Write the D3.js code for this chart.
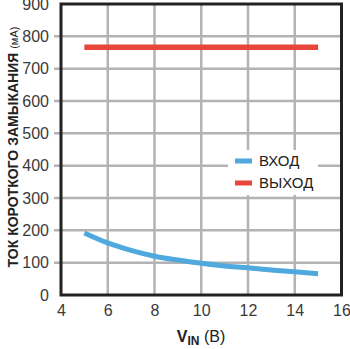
<!DOCTYPE html>
<html><head><meta charset="utf-8">
<script src="https://cdn.jsdelivr.net/npm/d3@7"></script>
<style>html,body{margin:0;padding:0;background:#fff;}svg{display:block;font-family:Arial,"Liberation Sans",sans-serif;}</style>
</head><body>
<script>
const vin = [5, 6, 7, 8, 9, 10, 11, 12, 13, 14, 15];
const inputCurrent = [192, 161, 138, 120, 108, 98, 90, 84, 77, 72, 66];
const outputCurrent = [766, 766, 766, 766, 766, 766, 766, 766, 766, 766, 766];
const xTicks = [4, 6, 8, 10, 12, 14, 16];
const yTicks = [0, 100, 200, 300, 400, 500, 600, 700, 800, 900];
const seriesNames = ["ВХОД", "ВЫХОД"];
const seriesColors = ["#4fa9de", "#e8463a"];

const W = 350, H = 349;
const m = {left: 61, right: 8.5, top: 4, bottom: 54};
const svg = d3.select("body").append("svg").attr("width", W).attr("height", H);
const x = d3.scaleLinear().domain([4, 16]).range([m.left, W - m.right]);
const y = d3.scaleLinear().domain([0, 900]).range([H - m.bottom, m.top]);

// grid
svg.append("g").selectAll("line.v").data(xTicks.slice(1, -1)).join("line")
  .attr("x1", d => x(d)).attr("x2", d => x(d)).attr("y1", y(900)).attr("y2", y(0))
  .attr("stroke", "#b3b3b3").attr("stroke-width", 2.5);
svg.append("g").selectAll("line.h").data(yTicks.slice(1, -1)).join("line")
  .attr("x1", x(4) - 7).attr("x2", x(16)).attr("y1", d => y(d)).attr("y2", d => y(d))
  .attr("stroke", "#b3b3b3").attr("stroke-width", 2.5);

// y axis labels
const ya = d3.axisLeft(y).tickValues(yTicks).tickSize(0).tickPadding(12);
const gy = svg.append("g").attr("transform", `translate(${x(4)},0)`).call(ya);
gy.select(".domain").remove();
gy.selectAll("text").attr("font-size", 16).attr("fill", "#3a3a3a").attr("font-family", "Arial,'Liberation Sans',sans-serif");

const xa = d3.axisBottom(x).tickValues(xTicks).tickSize(0).tickPadding(10);
const gx = svg.append("g").attr("transform", `translate(0,${y(0)})`).call(xa);
gx.select(".domain").remove();
gx.selectAll("text").attr("font-size", 16).attr("fill", "#3a3a3a").attr("font-family", "Arial,'Liberation Sans',sans-serif");

// lines
const line = d3.line().x((d, i) => x(vin[i])).y(d => y(d)).curve(d3.curveMonotoneX);
svg.append("path").datum(inputCurrent).attr("d", line).attr("fill", "none")
  .attr("stroke", seriesColors[0]).attr("stroke-width", 5);
svg.append("path").datum(outputCurrent).attr("d", line).attr("fill", "none")
  .attr("stroke", seriesColors[1]).attr("stroke-width", 5.5);

// frame
svg.append("rect").attr("x", x(4)).attr("y", y(900)).attr("width", x(16) - x(4)).attr("height", y(0) - y(900))
  .attr("fill", "none").attr("stroke", "#222").attr("stroke-width", 3);

// legend
const lg = svg.append("g");
lg.append("rect").attr("x", 228).attr("y", 150).attr("width", 90).attr("height", 45).attr("fill", "#fff");
seriesNames.forEach((n, i) => {
  const yy = 161 + i * 22;
  lg.append("rect").attr("x", 235).attr("y", yy - 2.5).attr("width", 17).attr("height", 5).attr("fill", seriesColors[i]);
  lg.append("text").attr("x", 259).attr("y", yy).attr("dy", "0.36em").attr("font-size", 15).attr("fill", "#222").text(n);
});

// x title
const xt = svg.append("text").attr("x", 201).attr("y", 342).attr("text-anchor", "middle").attr("fill", "#222");
xt.append("tspan").attr("font-weight", "bold").attr("font-size", 16).text("V");
xt.append("tspan").attr("font-weight", "bold").attr("font-size", 12).attr("dy", 3).text("IN");
xt.append("tspan").attr("font-size", 16).attr("dy", -3).text(" (В)");

// y title
const yt = svg.append("text").attr("transform", "translate(18,147) rotate(-90)").attr("text-anchor", "middle").attr("fill", "#222");
yt.append("tspan").attr("font-weight", "bold").attr("font-size", 14).text("ТОК КОРОТКОГО ЗАМЫКАНИЯ ");
yt.append("tspan").attr("font-size", 11).text("(мА)");
</script>
</body></html>
